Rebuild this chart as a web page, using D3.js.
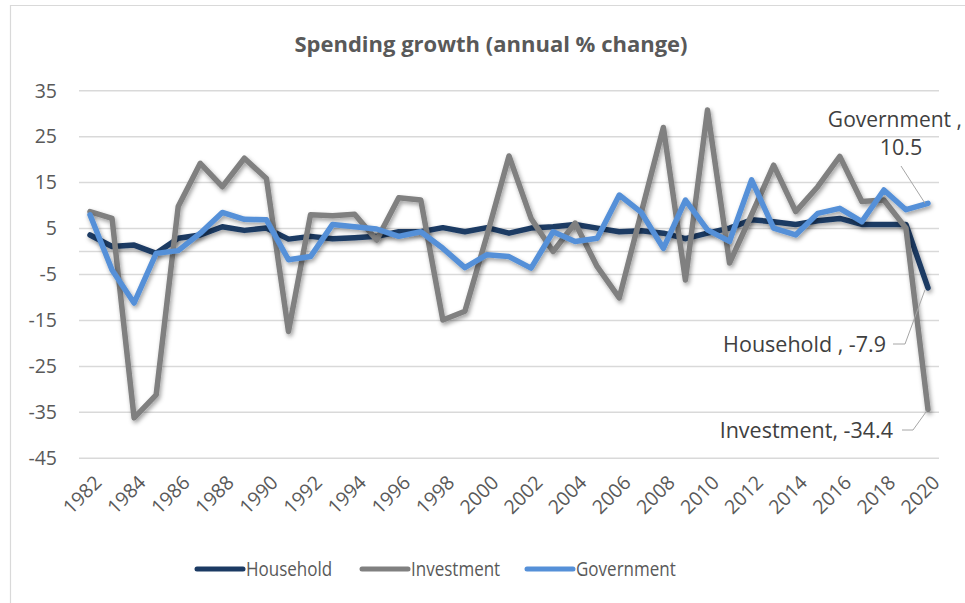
<!DOCTYPE html>
<html><head><meta charset="utf-8">
<script src="https://cdn.jsdelivr.net/npm/d3@7"></script>
<style>
body{margin:0;background:#fff}
text{font-family:"Open Sans","Noto Sans",sans-serif}
</style>
</head><body>
<svg id="c" width="965" height="603"></svg>
<script>
const years = d3.range(1982, 2021);
const household = [3.6,1.1,1.4,-0.4,2.9,3.6,5.4,4.6,5.1,2.7, 3.3,2.8,3.0,3.3,4.3,4.3,5.2,4.3,5.2,4.0, 5.1,5.4,5.9,5.1,4.3,4.5,4.0,2.8,4.0,5.1, 6.9,6.5,5.9,6.7,7.2,5.9,5.9,5.9,-7.9];
const investment = [8.7,7.2,-36.2,-31.2,9.8,19.2,14.1,20.3,15.9,-17.4, 8.0,7.8,8.1,2.5,11.7,11.2,-14.9,-13.0,3.5,20.8, 7.2,0.0,6.2,-3.3,-10.1,8.5,27.0,-6.2,30.8,-2.5, 8.0,18.8,8.7,14.1,20.7,10.9,11.2,5.1,-34.4];
const government = [8.0,-4.0,-11.2,-0.4,0.2,4.0,8.5,7.0,6.9,-1.8, -1.1,5.9,5.4,4.9,3.3,4.3,0.7,-3.5,-0.7,-1.1, -3.6,4.3,2.2,2.9,12.3,8.5,0.7,11.2,4.7,2.2, 15.6,5.1,3.6,8.3,9.4,6.5,13.4,9.1,10.5];
const seriesNames = ["Household","Investment","Government"];
const seriesColors = ["#1b3a63","#808080","#5590d8"];
const yTicks = [-45,-35,-25,-15,-5,5,15,25,35];
const xTickLabels = years.filter(y => y % 2 === 0);
const title = "Spending growth (annual % change)";

const svg = d3.select("#c");
const defs = svg.append("defs");
const f = defs.append("filter").attr("id","sh").attr("x","-10%").attr("y","-10%").attr("width","130%").attr("height","130%");
f.append("feDropShadow").attr("dx",1.5).attr("dy",2.5).attr("stdDeviation",2).attr("flood-color","#000").attr("flood-opacity",0.38);

// chart border
svg.append("path").attr("d","M10.5,603 V5.5 H970").attr("fill","none").attr("stroke","#d9d9d9").attr("stroke-width",1.2);

const x = d3.scalePoint().domain(years).range([90, 928]);
const y = d3.scaleLinear().domain([-45, 35]).range([458.3, 90.7]);
const plotL = 79, plotR = 939;

// title
svg.append("text").attr("x", 491).attr("y", 52).attr("text-anchor","middle")
  .attr("font-size", 22).attr("font-weight", "bold").attr("fill","#595959").text(title);

// gridlines
svg.append("g").selectAll("line").data(yTicks).join("line")
  .attr("x1", plotL).attr("x2", plotR).attr("y1", d => y(d)).attr("y2", d => y(d))
  .attr("stroke","#d9d9d9").attr("stroke-width",1.5);
svg.append("line").attr("x1", plotL).attr("x2", plotR).attr("y1", y(0)).attr("y2", y(0))
  .attr("stroke","#d9d9d9").attr("stroke-width",1.5);

// y labels
svg.append("g").selectAll("text").data(yTicks).join("text")
  .attr("x", 57).attr("y", d => y(d)).attr("dy","0.35em").attr("text-anchor","end")
  .attr("font-size", 19.5).attr("fill","#595959").text(d => d);

// x labels
svg.append("g").selectAll("text").data(xTickLabels).join("text")
  .attr("transform", d => `translate(${x(d)+8},${479}) rotate(-45)`)
  .attr("text-anchor","end").attr("dy","0.35em")
  .attr("font-size", 19.5).attr("fill","#595959").text(d => d);

// lines
const line = d3.line().x((d,i) => x(years[i])).y(d => y(d));
[household, investment, government].forEach((s, k) => {
  svg.append("path").datum(s).attr("d", line).attr("fill","none")
    .attr("stroke", seriesColors[k]).attr("stroke-width", 5.5)
    .attr("stroke-linejoin","round").attr("stroke-linecap","round")
    .attr("filter","url(#sh)");
});

// data labels
const last = years.length - 1;
const lx = x(years[last]);
const lab = svg.append("g").attr("font-size", 21.5).attr("fill","#404040");
lab.append("text").attr("x", 962).attr("y", 127).attr("text-anchor","end").attr("font-size", 21).text(`${seriesNames[2]} ,`);
lab.append("text").attr("x", 901).attr("y", 155).attr("text-anchor","middle").text(government[last]);
lab.append("text").attr("x", 886).attr("y", 352).attr("text-anchor","end").text(`${seriesNames[0]} , ${household[last]}`);
lab.append("text").attr("x", 893).attr("y", 438).attr("text-anchor","end").text(`${seriesNames[1]}, ${investment[last]}`);
const ll = svg.append("g").attr("stroke","#a6a6a6").attr("stroke-width",1).attr("fill","none");
ll.append("path").attr("d", `M901,166 L${lx-3},${y(government[last])}`);
ll.append("path").attr("d", `M893,344 H905 L${lx-3},${y(household[last])+2}`);
ll.append("path").attr("d", `M902,430 H913 L${lx-1},${y(investment[last])+1}`);

// legend
const legX = [197, 362, 527];
const lg = svg.append("g");
seriesNames.forEach((n, k) => {
  lg.append("line").attr("x1", legX[k]).attr("x2", legX[k]+46).attr("y1", 569).attr("y2", 569)
    .attr("stroke", seriesColors[k]).attr("stroke-width", 5).attr("stroke-linecap","round");
  lg.append("text").attr("transform", `translate(${legX[k]+49},569) scale(0.83,1)`).attr("dy","0.35em")
    .attr("font-size", 20.5).attr("fill","#595959").text(n);
});
</script>
</body></html>
